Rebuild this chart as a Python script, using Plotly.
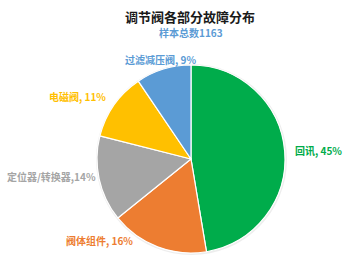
import plotly.graph_objects as go

# Fault distribution of control valve parts (share of 1163 samples)
categories = ["回讯", "阀体组件", "定位器/转换器", "电磁阀", "过滤减压阀"]
percents = [45, 16, 14, 11, 9]
slice_colors = ["#00AC4B", "#ED7D31", "#A5A5A5", "#FFC000", "#5B9BD5"]
label_seps = [", ", ", ", ",", ", ", ", "]

title_text = "调节阀各部分故障分布"
subtitle_text = "样本总数1163"

W, H = 344, 265
cx, cy, r = 191, 159, 94  # pie centre / radius in pixels

font = "Noto Sans CJK SC"

fig = go.Figure()

# faint drop shadow behind the pie
fig.add_shape(type="circle", xref="paper", yref="paper",
              x0=(cx - r - 1) / W, x1=(cx + r + 2) / W,
              y0=(H - (cy + r + 2)) / H, y1=(H - (cy - r - 1)) / H,
              fillcolor="rgba(0,0,0,0.07)", line=dict(width=0), layer="below")

fig.add_trace(go.Pie(
    labels=categories,
    values=percents,
    sort=False,
    direction="clockwise",
    rotation=0,
    marker=dict(colors=slice_colors, line=dict(color="white", width=1.2)),
    textinfo="none",
    hoverinfo="label+percent",
    domain=dict(x=[(cx - r) / W, (cx + r) / W],
                y=[(H - cy - r) / H, (H - cy + r) / H]),
    showlegend=False,
))

# label anchor points (pixels) and horizontal anchoring per slice
label_pos = [(293, 150, "left"), (64, 240, "left"), (98, 176, "right"),
             (108, 97, "right"), (123, 60, "left")]

for cat, pct, col, sep, (lx, ly, anc) in zip(categories, percents, slice_colors,
                                            label_seps, label_pos):
    fig.add_annotation(
        x=lx / W, y=1 - ly / H, xref="paper", yref="paper",
        xanchor=anc, yanchor="middle", showarrow=False,
        text=f"<b>{cat}{sep}{pct}%</b>",
        font=dict(family=font, size=10, color=col),
    )

fig.add_annotation(x=190 / W, y=1 - 17 / H, xref="paper", yref="paper",
                   xanchor="center", yanchor="middle", showarrow=False,
                   text=f"<b>{title_text}</b>",
                   font=dict(family=font, size=13, color="#1a1a1a"))
fig.add_annotation(x=191 / W, y=1 - 33 / H, xref="paper", yref="paper",
                   xanchor="center", yanchor="middle", showarrow=False,
                   text=f"<b>{subtitle_text}</b>",
                   font=dict(family=font, size=10, color="#5B9BD5"))

fig.update_layout(
    width=W, height=H,
    margin=dict(l=0, r=0, t=0, b=0),
    paper_bgcolor="white", plot_bgcolor="white",
)

fig.write_html("out.html", config={"displayModeBar": False})
